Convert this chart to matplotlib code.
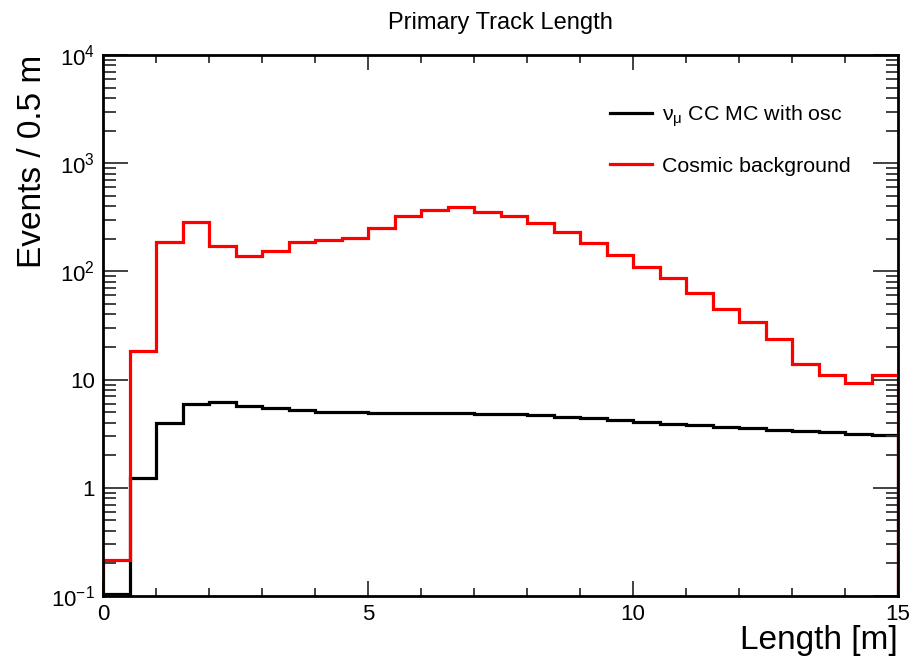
import numpy as np
import matplotlib
matplotlib.use("Agg")
import matplotlib.pyplot as plt
from matplotlib.ticker import FixedLocator, MultipleLocator, NullFormatter

plt.rcParams['font.family'] = ['Liberation Sans', 'DejaVu Sans']
plt.rcParams['mathtext.fontset'] = 'custom'
plt.rcParams['mathtext.rm'] = 'Liberation Sans'
plt.rcParams['mathtext.it'] = 'Liberation Sans:italic'

# bin edges: 30 bins of 0.5 m from 0 to 15 m
edges = np.arange(0, 15.01, 0.5)

# nu_mu CC MC with oscillations
numu_cc = [0.105, 1.23, 3.97, 5.95, 6.2, 5.7, 5.47, 5.24, 5.0, 4.97,
           4.95, 4.93, 4.9, 4.95, 4.85, 4.8, 4.7, 4.55, 4.42, 4.24,
           4.06, 3.89, 3.8, 3.65, 3.57, 3.42, 3.35, 3.28, 3.14, 3.05]

# cosmic background
cosmic = [0.215, 18.4, 186, 286, 172, 138, 155, 186, 195, 205,
          254, 325, 369, 393, 354, 325, 281, 231, 183, 142,
          110, 87, 63, 45, 34, 23.7, 13.9, 11.0, 9.3, 11.0]

ytick_vals = [0.1, 1, 10, 100, 1000, 10000]
ytick_labels = [r'$10^{-1}$', '1', '10', r'$10^{2}$', r'$10^{3}$', r'$10^{4}$']

fig = plt.figure(figsize=(9.14, 6.6), dpi=100)
ax = fig.add_axes([0.1127, 0.097, 0.8698, 0.8197])

ax.stairs(numu_cc, edges, baseline=1e-3, color='black', lw=2.3,
          label=r'$\mathregular{\nu_{\mu}}$ CC MC with osc')
ax.stairs(cosmic, edges, baseline=1e-3, color='#ff0000', lw=2.3,
          label='Cosmic background')

ax.set_yscale('log')
ax.set_xlim(0, 15)
ax.set_ylim(0.1, 1e4)

ax.xaxis.set_major_locator(MultipleLocator(5))
ax.xaxis.set_minor_locator(MultipleLocator(1))
ax.yaxis.set_major_locator(FixedLocator(ytick_vals))
ax.set_yticklabels(ytick_labels)
ax.yaxis.set_minor_formatter(NullFormatter())

ax.tick_params(which='both', direction='in', top=True, right=True,
               labelsize=16, width=1.3, color='#333333')
ax.tick_params(axis='x', which='major', length=11, pad=6)
ax.tick_params(axis='x', which='minor', length=6)
ax.tick_params(axis='y', which='major', length=18, pad=6)
ax.tick_params(axis='y', which='minor', length=9)
for sp in ax.spines.values():
    sp.set_linewidth(2)

ax.set_title('Primary Track Length', fontsize=17, pad=19)
ax.set_ylabel('Events / 0.5 m', fontsize=24, loc='top', labelpad=2)
ax.set_xlabel('Length [m]', fontsize=24, loc='right', labelpad=0)

ax.legend(loc='upper left', bbox_to_anchor=(0.613, 0.946), frameon=False,
          fontsize=15.4, handlelength=2.0, labelspacing=1.3, handletextpad=0.47)

fig.savefig('out.png', dpi=100)
